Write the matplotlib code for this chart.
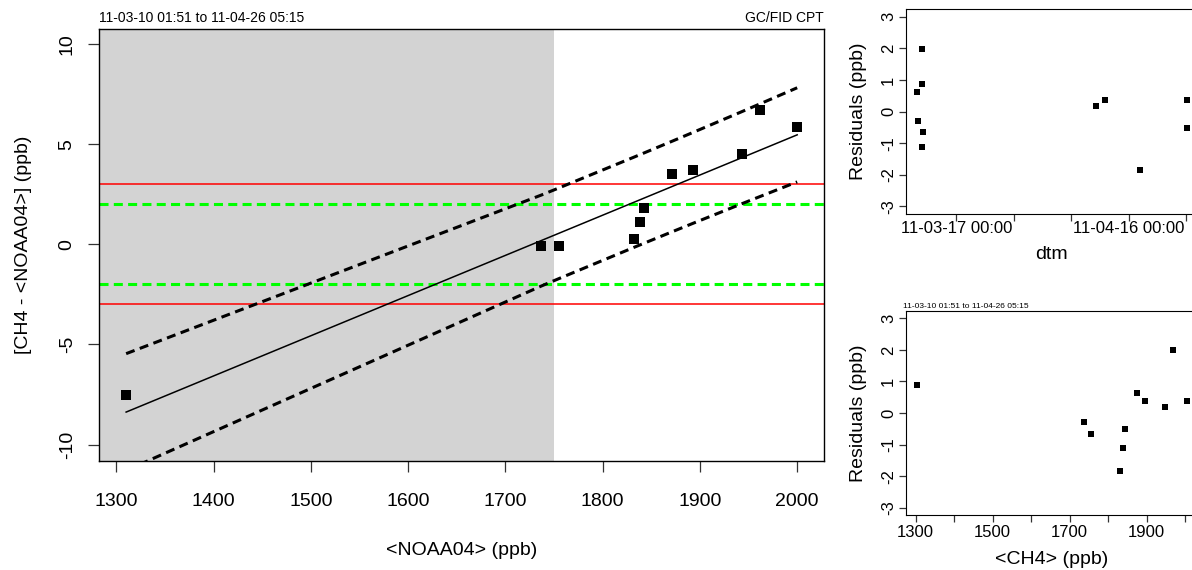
import numpy as np
import pandas as pd
import matplotlib
matplotlib.use("Agg")
import matplotlib.pyplot as plt
import matplotlib.dates as mdates

plt.rcParams['font.family'] = ['Liberation Sans', 'DejaVu Sans']
plt.rcParams['lines.scale_dashes'] = False

# values
noaa = [1310, 1737, 1755, 1832, 1838, 1843, 1871, 1893, 1943, 1962, 2000]
ch4_diff = [-7.5, -0.1, -0.1, 0.25, 1.1, 1.8, 3.5, 3.7, 4.5, 6.7, 5.85]
times = ['2011-03-11 02:00', '2011-03-10 07:00', '2011-03-11 05:00', '2011-04-18 00:00',
         '2011-03-11 01:00', '2011-04-26 05:15', '2011-03-10 01:51', '2011-04-11 22:00',
         '2011-04-10 10:00', '2011-03-11 01:00', '2011-04-26 04:00']
shade_upto = 1750
red_limits = [-3, 3]
green_limits = [-2, 2]
title_left = "11-03-10 01:51 to 11-04-26 05:15"
title_right = "GC/FID CPT"

main_xticks = [1300, 1400, 1500, 1600, 1700, 1800, 1900, 2000]
main_yticks = [-10, -5, 0, 5, 10]
resid_yticks = [-3, -2, -1, 0, 1, 2, 3]
dtm_ticks = ['2011-03-17', '2011-03-27', '2011-04-06', '2011-04-16', '2011-04-26']
dtm_labels = ['11-03-17 00:00', '', '', '11-04-16 00:00', '']
ch4_ticks = [1300, 1400, 1500, 1600, 1700, 1800, 1900, 2000]
ch4_labels = ['1300', '', '1500', '', '1700', '', '1900', '']

# linear fit with prediction band
x = np.array(noaa, dtype=float)
y = np.array(ch4_diff, dtype=float)
n = len(x)
slope, icpt = np.polyfit(x, y, 1)
resid = y - (icpt + slope * x)
s = np.sqrt(np.sum(resid ** 2) / (n - 2))
k = 1.96  # band multiplier
xs = np.sort(x)
fit_s = icpt + slope * xs
lev = np.sqrt(1 + 1 / n + (xs - x.mean()) ** 2 / np.sum((x - x.mean()) ** 2))
upper = fit_s + k * s * lev
lower = fit_s - k * s * lev

ch4 = x + y
dtm = mdates.date2num(pd.to_datetime(times).to_pydatetime())


def r_lim(v):
    lo, hi = np.min(v), np.max(v)
    pad = 0.04 * (hi - lo)
    return lo - pad, hi + pad


fig = plt.figure(figsize=(11.92, 5.70), dpi=100)

# ---- main panel
ax = fig.add_axes([0.0833, 0.1918, 0.6080, 0.7573])
xlo, xhi = r_lim(x)
ax.axvspan(xlo - 50, shade_upto, color='#D3D3D3', lw=0, zorder=0)
for v in red_limits:
    ax.axhline(v, color='#FF0000', lw=1.1, zorder=1)
for v in green_limits:
    ax.axhline(v, color='#00FF00', lw=2.2, dashes=(6.5, 3.8), zorder=1)
ax.plot(xs, fit_s, color='black', lw=1.1, zorder=2)
ax.plot(xs, upper, color='black', lw=2.2, dashes=(6.5, 4.0), zorder=2)
ax.plot(xs, lower, color='black', lw=2.2, dashes=(6.5, 4.0), zorder=2)
ax.plot(x, y, 's', color='black', ms=7.2, mew=0, zorder=3)
ax.set_xlim(xlo, xhi)
ax.set_ylim(-10.8, 10.75)
ax.set_xticks(main_xticks)
ax.set_yticks(main_yticks)
ax.set_yticklabels([str(v) for v in main_yticks], rotation=90, va='center')
ax.tick_params(axis='both', length=8, width=0.9, labelsize=14, color='#333333')
ax.tick_params(axis='x', pad=15)
ax.tick_params(axis='y', pad=9)
ax.set_xlabel("<NOAA04> (ppb)", fontsize=14)
ax.set_ylabel("[CH4 - <NOAA04>] (ppb)", fontsize=14)
ax.xaxis.label.set_va('center')
ax.yaxis.label.set_va('center')
ax.xaxis.set_label_coords(0.5, -0.207)
ax.yaxis.set_label_coords(-0.1040, 0.5)
ax.text(0, 1.017, title_left, transform=ax.transAxes, fontsize=10, ha='left', va='baseline')
ax.text(1, 1.017, title_right, transform=ax.transAxes, fontsize=10, ha='right', va='baseline')
for sp in ax.spines.values():
    sp.set_linewidth(1.0)

# ---- residuals vs time
ax2 = fig.add_axes([0.7598, 0.6246, 0.2453, 0.3591])
ax2.plot(dtm, resid, 's', color='black', ms=4.4, mew=0)
ax2.set_xlim(*r_lim(dtm))
ax2.set_ylim(-3.24, 3.24)
ax2.set_xticks(mdates.date2num(pd.to_datetime(dtm_ticks).to_pydatetime()))
ax2.set_xticklabels(dtm_labels)
ax2.set_yticks(resid_yticks)
ax2.set_yticklabels([str(v) for v in resid_yticks], rotation=90, va='center')
ax2.tick_params(axis='both', length=5, width=0.9, labelsize=12, color='#333333')
ax2.tick_params(axis='x', pad=0)
ax2.tick_params(axis='y', pad=2)
ax2.set_xlabel("dtm", fontsize=14)
ax2.set_ylabel("Residuals (ppb)", fontsize=14)
ax2.xaxis.label.set_va('center')
ax2.yaxis.label.set_va('center')
ax2.xaxis.set_label_coords(0.5, -0.2)
ax2.yaxis.set_label_coords(-0.160, 0.5)

# ---- residuals vs CH4
ax3 = fig.add_axes([0.7598, 0.0960, 0.2453, 0.3589])
ax3.plot(ch4, resid, 's', color='black', ms=4.4, mew=0)
ax3.set_xlim(*r_lim(ch4))
ax3.set_ylim(-3.24, 3.24)
ax3.set_xticks(ch4_ticks)
ax3.set_xticklabels(ch4_labels)
ax3.set_yticks(resid_yticks)
ax3.set_yticklabels([str(v) for v in resid_yticks], rotation=90, va='center')
ax3.tick_params(axis='both', length=5, width=0.9, labelsize=12, color='#333333')
ax3.tick_params(axis='x', pad=2)
ax3.tick_params(axis='y', pad=2)
ax3.set_xlabel("<CH4> (ppb)", fontsize=14)
ax3.set_ylabel("Residuals (ppb)", fontsize=14)
ax3.xaxis.label.set_va('center')
ax3.yaxis.label.set_va('center')
ax3.xaxis.set_label_coords(0.5, -0.218)
ax3.yaxis.set_label_coords(-0.160, 0.5)
ax3.text(-0.01, 1.013, title_left, transform=ax3.transAxes, fontsize=6, ha='left', va='baseline')

fig.savefig("out.png", dpi=100)
